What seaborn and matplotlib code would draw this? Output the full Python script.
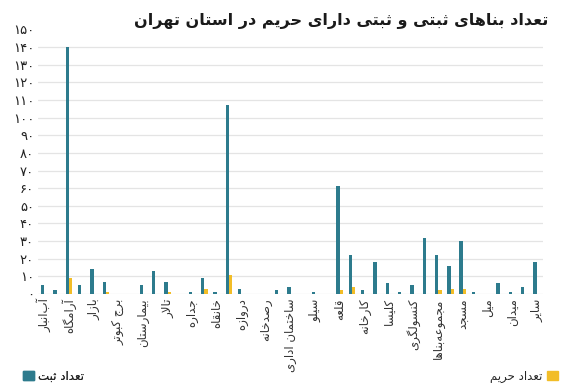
import numpy as np
import pandas as pd
import matplotlib
matplotlib.use("Agg")
import matplotlib.pyplot as plt
import seaborn as sns
from matplotlib.patches import Patch

# categories (persian, alphabetical) - odd ones have no visible label in the chart
categories = ["آب‌انبار", "آتشکده", "آرامگاه", "امامزاده", "بازار", "باغ", "برج کبوتر", "بقعه",
              "بیمارستان", "پل", "تالار", "تپه", "جداره", "حمام", "خانقاه", "خانه",
              "دروازه", "دیوار", "رصدخانه", "زورخانه", "ساختمان اداری", "سرا", "سیلو", "عمارت",
              "قلعه", "قنات", "کارخانه", "کاروانسرا", "کلیسا", "کنیسه", "کنسولگری", "گورستان",
              "مجموعه‌بناها", "مدرسه", "مسجد", "مقبره", "میل", "موزه", "میدان", "یخچال", "سایر"]
registered = [5, 2, 140, 5, 14, 7, 0, 0, 5, 13, 7, 0, 1, 9, 1, 107, 3, 0, 0, 2, 4,
              0, 1, 0, 61, 22, 2, 18, 6, 1, 5, 32, 22, 16, 30, 1, 0, 6, 1, 4, 18]
buffer_zone = [0, 0, 9, 0, 0, 1, 0, 0, 0, 0, 1, 0, 0, 3, 0, 11, 0, 0, 0, 0, 0,
               0, 0, 0, 2, 4, 0, 0, 0, 0, 0, 0, 2, 3, 3, 0, 0, 0, 0, 0, 0]
series_names = ["تعداد ثبت", "تعداد حریم"]
title = "تعداد بناهای ثبتی و ثبتی دارای حریم در استان تهران"
yticks = list(range(0, 151, 10))

teal = "#2d7b8d"
yellow = "#f2bd27"

# --- minimal arabic/persian shaping (matplotlib has no complex text layout)
FORMS = {
    "ا": (0xFE8D, 0xFE8E, None, None), "آ": (0xFE81, 0xFE82, None, None),
    "ب": (0xFE8F, 0xFE90, 0xFE91, 0xFE92), "پ": (0xFB56, 0xFB57, 0xFB58, 0xFB59),
    "ت": (0xFE95, 0xFE96, 0xFE97, 0xFE98), "ث": (0xFE99, 0xFE9A, 0xFE9B, 0xFE9C),
    "ج": (0xFE9D, 0xFE9E, 0xFE9F, 0xFEA0), "چ": (0xFB7A, 0xFB7B, 0xFB7C, 0xFB7D),
    "ح": (0xFEA1, 0xFEA2, 0xFEA3, 0xFEA4), "خ": (0xFEA5, 0xFEA6, 0xFEA7, 0xFEA8),
    "د": (0xFEA9, 0xFEAA, None, None), "ذ": (0xFEAB, 0xFEAC, None, None),
    "ر": (0xFEAD, 0xFEAE, None, None), "ز": (0xFEAF, 0xFEB0, None, None),
    "ژ": (0xFB8A, 0xFB8B, None, None),
    "س": (0xFEB1, 0xFEB2, 0xFEB3, 0xFEB4), "ش": (0xFEB5, 0xFEB6, 0xFEB7, 0xFEB8),
    "ص": (0xFEB9, 0xFEBA, 0xFEBB, 0xFEBC), "ض": (0xFEBD, 0xFEBE, 0xFEBF, 0xFEC0),
    "ط": (0xFEC1, 0xFEC2, 0xFEC3, 0xFEC4), "ظ": (0xFEC5, 0xFEC6, 0xFEC7, 0xFEC8),
    "ع": (0xFEC9, 0xFECA, 0xFECB, 0xFECC), "غ": (0xFECD, 0xFECE, 0xFECF, 0xFED0),
    "ف": (0xFED1, 0xFED2, 0xFED3, 0xFED4), "ق": (0xFED5, 0xFED6, 0xFED7, 0xFED8),
    "ک": (0xFB8E, 0xFB8F, 0xFB90, 0xFB91), "گ": (0xFB92, 0xFB93, 0xFB94, 0xFB95),
    "ل": (0xFEDD, 0xFEDE, 0xFEDF, 0xFEE0), "م": (0xFEE1, 0xFEE2, 0xFEE3, 0xFEE4),
    "ن": (0xFEE5, 0xFEE6, 0xFEE7, 0xFEE8), "و": (0xFEED, 0xFEEE, None, None),
    "ه": (0xFEE9, 0xFEEA, 0xFEEB, 0xFEEC), "ی": (0xFBFC, 0xFBFD, 0xFBFE, 0xFBFF),
    "ئ": (0xFE89, 0xFE8A, 0xFE8B, 0xFE8C),
}
LAMALEF = {"ا": (0xFEFB, 0xFEFC), "آ": (0xFEF5, 0xFEF6)}


def shape(text):
    chars = list(text)
    out = []
    i = 0
    while i < len(chars):
        c = chars[i]
        if c == "\u200c":
            i += 1
            continue
        if c not in FORMS:
            out.append(c)
            i += 1
            continue
        prev = chars[i - 1] if i > 0 else None
        joins_prev = prev in FORMS and FORMS[prev][2] is not None
        nxt = chars[i + 1] if i + 1 < len(chars) else None
        if c == "ل" and nxt in LAMALEF:
            out.append(chr(LAMALEF[nxt][1] if joins_prev else LAMALEF[nxt][0]))
            i += 2
            continue
        iso, fin, ini, med = FORMS[c]
        joins_next = ini is not None and nxt in FORMS
        if joins_prev and joins_next:
            out.append(chr(med))
        elif joins_prev:
            out.append(chr(fin))
        elif joins_next:
            out.append(chr(ini))
        else:
            out.append(chr(iso))
        i += 1
    return "".join(reversed(out))


fa_digits = str.maketrans("0123456789", "۰۱۲۳۴۵۶۷۸۹")

df = pd.DataFrame({
    "cat": categories * 2,
    "series": [series_names[0]] * len(categories) + [series_names[1]] * len(categories),
    "value": registered + buffer_zone,
})

sns.set_theme(style="white")
plt.rcParams["font.family"] = ["DejaVu Sans"]

fig = plt.figure(figsize=(5.72, 3.87), dpi=100)
ax = fig.add_axes([0.067, 0.2403, 0.882, 0.6835])

sns.barplot(data=df, x="cat", y="value", hue="series", order=categories,
            hue_order=series_names, palette=[teal, yellow], width=0.55,
            saturation=1, linewidth=0, legend=False, ax=ax)

ax.set_xlim(-0.5, len(categories) - 0.5)
ax.set_ylim(0, 150)
ax.set_yticks(yticks)
ax.set_yticklabels([str(v).translate(fa_digits) for v in yticks], fontsize=9.5, color="#222222")
ax.set_xticks(range(len(categories)))
ax.set_xticklabels([shape(c) if i % 2 == 0 else "" for i, c in enumerate(categories)],
                   rotation=90, fontsize=8.5, color="#333333")
ax.tick_params(axis="both", length=0, pad=3)
ax.yaxis.grid(True, color="#e4e4e4", linewidth=0.9)
ax.set_axisbelow(True)
ax.get_ygridlines()[-1].set_visible(False)
sns.despine(ax=ax, left=True, bottom=True)
ax.set_xlabel("")
ax.set_ylabel("")

fig.text(0.958, 0.945, shape(title), ha="right", va="center", fontsize=11.5,
         fontweight="bold", color="#1a1a1a")

leg1 = fig.legend(handles=[Patch(color=teal)], labels=[shape(series_names[0])],
                  loc="center left", bbox_to_anchor=(0.03, 0.028), frameon=False,
                  handlelength=0.9, handleheight=0.9, handletextpad=0.4,
                  borderpad=0, fontsize=8.5)
fig.add_artist(leg1)
fig.legend(handles=[Patch(color=yellow)], labels=[shape(series_names[1])],
           loc="center right", bbox_to_anchor=(0.985, 0.028), frameon=False,
           handlelength=0.9, handleheight=0.9, handletextpad=0.4, markerfirst=False,
           borderpad=0, fontsize=8.5)

fig.savefig("out.png", dpi=100)
